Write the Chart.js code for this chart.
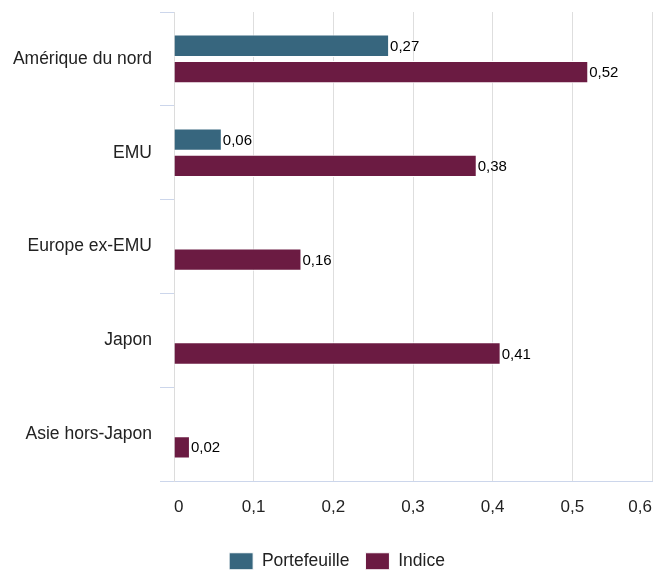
<!DOCTYPE html>
<html>
<head>
<meta charset="utf-8">
<script src="https://cdn.jsdelivr.net/npm/chart.js@4"></script>
<style>
  html, body { margin: 0; padding: 0; background: #fff; overflow: hidden; }
  #wrap { width: 653px; height: 571px; position: relative; }
</style>
</head>
<body>
<div id="wrap"><canvas id="chart"></canvas></div>
<script>
// categories and series
let regions = ['Amérique du nord', 'EMU', 'Europe ex-EMU', 'Japon', 'Asie hors-Japon'];
let portefeuille = [0.27, 0.06, null, null, null];
let indice = [0.52, 0.38, 0.16, 0.41, 0.02];
let xTicks = [0, 0.1, 0.2, 0.3, 0.4, 0.5, 0.6];

function frNum(v) {
    return String(Math.round(v * 100) / 100).replace('.', ',');
}

// draws the value just right of each bar
let valueLabels = {
    id: 'valueLabels',
    afterDatasetsDraw(chart) {
        let ctx = chart.ctx;
        ctx.save();
        ctx.font = '15px "Liberation Sans", Arial, sans-serif';
        ctx.fillStyle = '#000';
        ctx.textBaseline = 'middle';
        ctx.textAlign = 'left';
        chart.data.datasets.forEach((ds, i) => {
            let meta = chart.getDatasetMeta(i);
            if (meta.hidden) return;
            meta.data.forEach((bar, j) => {
                let v = ds.data[j];
                if (v === null || v === undefined) return;
                ctx.fillText(frNum(v), bar.x + 1, bar.y + 1);
            });
        });
        ctx.restore();
    }
};

// legend sits a bit right of the canvas centre in the original
let legendShift = {
    id: 'legendShift',
    afterLayout(chart) {
        if (chart.legend) {
            chart.legend.left += 11;
            chart.legend.right += 11;
        }
    }
};

Chart.defaults.font.family = '"Liberation Sans", Arial, sans-serif';
Chart.defaults.color = '#222';

new Chart(document.getElementById('chart'), {
    type: 'bar',
    data: {
        labels: regions,
        datasets: [
            {
                label: 'Portefeuille',
                data: portefeuille,
                backgroundColor: '#37667e',
                borderColor: '#ffffff',
                borderWidth: 1,
                categoryPercentage: 0.56,
                barPercentage: 0.85
            },
            {
                label: 'Indice',
                data: indice,
                backgroundColor: '#6b1b42',
                borderColor: '#ffffff',
                borderWidth: 1,
                categoryPercentage: 0.56,
                barPercentage: 0.85
            }
        ]
    },
    options: {
        indexAxis: 'y',
        responsive: true,
        maintainAspectRatio: false,
        animation: false,
        layout: {
            padding: { top: 12, right: 1, left: 0, bottom: -9 }
        },
        scales: {
            x: {
                min: 0,
                max: 0.6,
                afterBuildTicks: axis => {
                    axis.ticks = xTicks.map(v => ({ value: v }));
                },
                afterFit: axis => {
                    axis.paddingLeft = 0;
                    axis.paddingRight = 0;
                    axis.height += 3;
                },
                ticks: {
                    align: 'inner',
                    padding: 16,
                    color: '#222',
                    font: { size: 17 },
                    callback: v => frNum(v)
                },
                grid: {
                    color: '#dedede',
                    drawTicks: false
                },
                border: { color: '#ccd6eb', width: 1 }
            },
            y: {
                afterFit: axis => {
                    axis.width = 174;
                    axis.paddingTop = 0;
                    axis.paddingBottom = 0;
                },
                ticks: {
                    padding: 8,
                    color: '#222',
                    font: { size: 17.5 }
                },
                grid: {
                    offset: true,
                    drawOnChartArea: false,
                    color: '#ccd6eb',
                    tickLength: 14
                },
                border: { color: '#dcdcdc', width: 1 }
            }
        },
        plugins: {
            legend: {
                position: 'bottom',
                labels: {
                    boxWidth: 24,
                    boxHeight: 17,
                    padding: 16,
                    color: '#222',
                    font: { size: 17.5 }
                }
            },
            tooltip: { enabled: false }
        }
    },
    plugins: [valueLabels, legendShift]
});
</script>
</body>
</html>
